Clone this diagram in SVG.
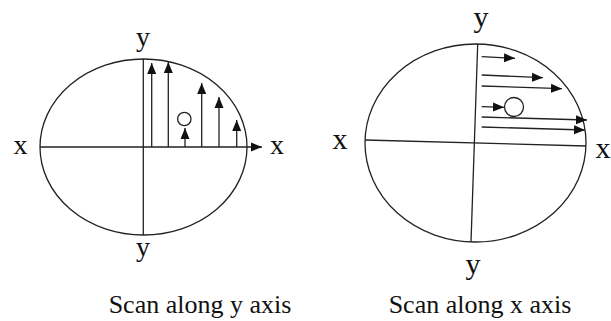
<svg xmlns="http://www.w3.org/2000/svg" width="611" height="321" viewBox="0 0 611 321">
<defs>
<marker id="ah" markerUnits="userSpaceOnUse" markerWidth="12" markerHeight="10" refX="11" refY="5" orient="auto">
<path d="M0,0.5 L11,5 L0,9.5 Z" fill="#111"/>
</marker>
</defs>
<style>
.ln{stroke:#222;stroke-width:1.3;fill:none}
.ar{stroke:#222;stroke-width:1.3;fill:none;marker-end:url(#ah)}
.lbl{font-family:"Liberation Serif","Times New Roman",serif;fill:#111;text-anchor:middle}
</style>
<rect width="611" height="321" fill="#fff"/>
<g id="left-diagram">
<ellipse class="ln" cx="143.5" cy="147" rx="103.5" ry="88"/>
<line class="ln" x1="143.3" y1="59" x2="143.3" y2="235"/>
<text class="lbl" x="143" y="46" font-size="28">y</text>
<text class="lbl" x="143" y="256" font-size="28">y</text>
<text class="lbl" x="20.5" y="154" font-size="28">x</text>
<text class="lbl" x="277" y="154" font-size="28">x</text>
<circle class="ln" cx="184.3" cy="119" r="6.7"/>
</g>
<g id="right-diagram">
<ellipse class="ln" cx="475.5" cy="143" rx="110.5" ry="99"/>
<line class="ln" x1="477.7" y1="44" x2="471" y2="242"/>
<line class="ln" x1="365" y1="140" x2="586" y2="146"/>
<text class="lbl" x="481" y="27" font-size="30">y</text>
<text class="lbl" x="473" y="274" font-size="30">y</text>
<text class="lbl" x="340" y="149" font-size="30">x</text>
<text class="lbl" x="603" y="158" font-size="30">x</text>
<circle class="ln" cx="514" cy="107" r="9.5"/>
</g>
<g id="connectors">
<line class="ar" x1="40" y1="147" x2="262" y2="147"/>
<line class="ar" x1="151.7" y1="147" x2="151.7" y2="63"/>
<line class="ar" x1="168.3" y1="147" x2="168.3" y2="62"/>
<line class="ar" x1="185" y1="147" x2="185" y2="128"/>
<line class="ar" x1="201.7" y1="147" x2="201.7" y2="83"/>
<line class="ar" x1="219" y1="147" x2="219" y2="97"/>
<line class="ar" x1="236.7" y1="147" x2="236.7" y2="120"/>
<line class="ar" x1="481.7" y1="56.7" x2="515" y2="58.3"/>
<line class="ar" x1="481.7" y1="75" x2="543" y2="77.7"/>
<line class="ar" x1="481.7" y1="86" x2="562" y2="88.7"/>
<line class="ar" x1="481.7" y1="106.7" x2="504" y2="107.3"/>
<line class="ar" x1="481.7" y1="117" x2="587" y2="120"/>
<line class="ar" x1="481.7" y1="127" x2="585" y2="130"/>
</g>
<g id="captions">
<text class="lbl" x="200" y="313" font-size="26">Scan along y axis</text>
<text class="lbl" x="480" y="313" font-size="26">Scan along x axis</text>
</g>
</svg>
